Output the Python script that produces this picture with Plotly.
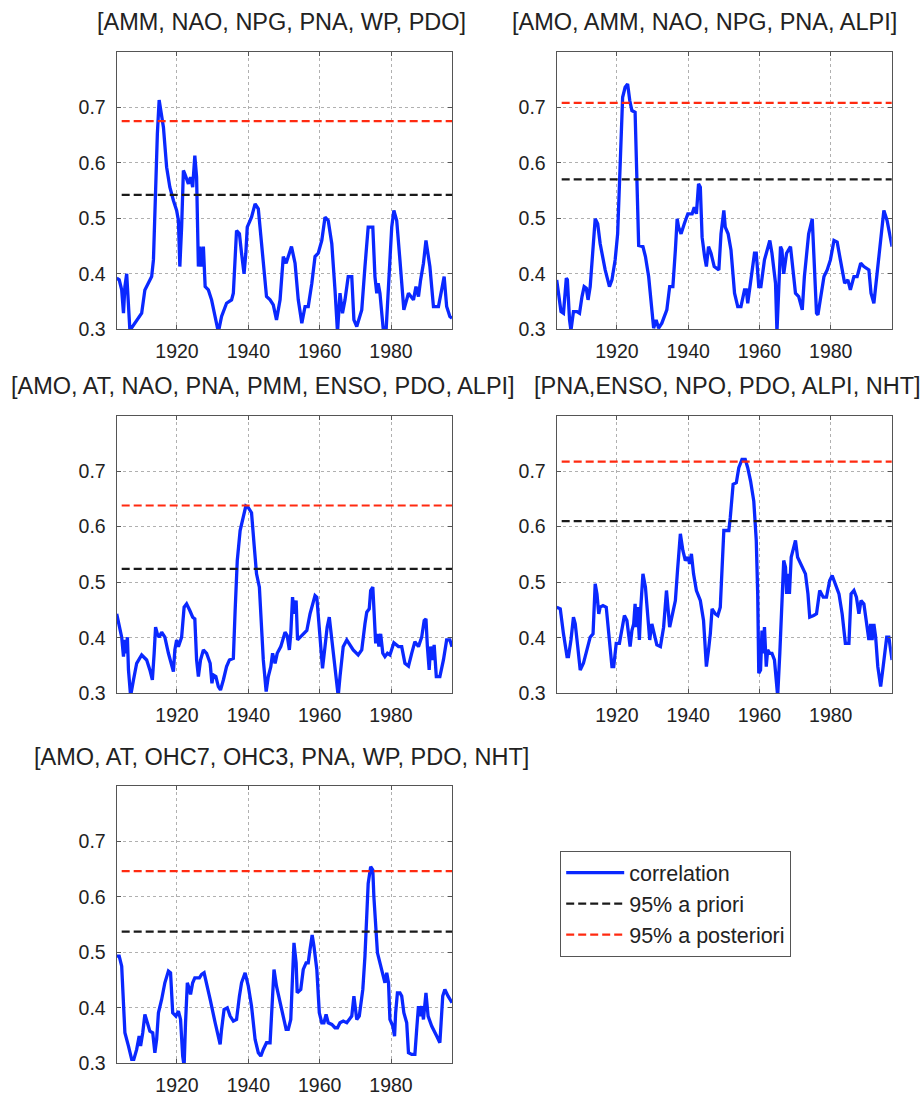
import plotly.graph_objects as go

# ---------------- data ----------------
titles = [
    "[AMM, NAO, NPG, PNA, WP, PDO]",
    "[AMO, AMM, NAO, NPG, PNA, ALPI]",
    "[AMO, AT, NAO, PNA, PMM, ENSO, PDO, ALPI]",
    "[PNA,ENSO, NPO, PDO, ALPI, NHT]",
    "[AMO, AT, OHC7, OHC3, PNA, WP, PDO, NHT]",
]

prior_thr = [0.542, 0.570, 0.524, 0.610, 0.537]
post_thr = [0.675, 0.708, 0.638, 0.717, 0.646]
thr_years = [1904.5, 1997.2]

years1 = [1903.1, 1903.8, 1904.5, 1905.0, 1905.4, 1905.9, 1906.8, 1907.8, 1908.7, 1910.1,
          1911.0, 1912.9, 1913.4, 1913.6, 1914.0, 1914.5, 1915.0, 1915.7, 1916.2, 1917.1,
          1918.0, 1919.0, 1919.9, 1920.4, 1920.8, 1921.3, 1921.8, 1922.2, 1923.2, 1923.8,
          1924.4, 1925.0, 1925.5, 1926.0, 1926.4, 1926.9, 1927.4, 1927.9, 1928.8, 1929.7,
          1930.7, 1931.6, 1932.5, 1933.9, 1935.3, 1935.8, 1936.7, 1937.5, 1938.1, 1938.8,
          1939.3, 1939.7, 1940.9, 1941.9, 1942.8, 1944.2, 1945.1, 1946.1, 1947.0, 1947.9,
          1948.9, 1949.8, 1950.6, 1951.2, 1952.1, 1953.1, 1954.0, 1955.0, 1955.9, 1956.8,
          1957.8, 1958.7, 1959.6, 1960.6, 1961.5, 1962.4, 1963.4, 1964.3, 1965.0, 1965.7,
          1966.4, 1967.1, 1968.0, 1969.0, 1969.6, 1970.4, 1971.8, 1972.7, 1973.6, 1974.9,
          1975.5, 1976.0, 1976.4, 1976.9, 1977.9, 1978.6, 1979.3, 1980.2, 1980.8, 1981.6,
          1982.5, 1983.6, 1984.9, 1986.3, 1987.0, 1987.7, 1988.3, 1989.1, 1989.8, 1990.9,
          1991.9, 1993.3, 1994.2, 1994.9, 1995.6, 1996.5, 1997.1]
corr1 = [0.392, 0.389, 0.371, 0.329, 0.377, 0.400, 0.298, 0.308, 0.317, 0.329,
         0.371, 0.395, 0.425, 0.472, 0.574, 0.652, 0.713, 0.688, 0.664, 0.592,
         0.556, 0.532, 0.514, 0.496, 0.413, 0.484, 0.586, 0.580, 0.562, 0.574,
         0.556, 0.613, 0.574, 0.413, 0.449, 0.413, 0.449, 0.377, 0.371, 0.353,
         0.323, 0.295, 0.323, 0.347, 0.353, 0.365, 0.478, 0.472, 0.437, 0.400,
         0.437, 0.484, 0.502, 0.526, 0.517, 0.413, 0.359, 0.353, 0.344, 0.317,
         0.353, 0.431, 0.419, 0.431, 0.449, 0.419, 0.353, 0.311, 0.341, 0.341,
         0.383, 0.431, 0.437, 0.460, 0.502, 0.496, 0.454, 0.371, 0.295, 0.365,
         0.329, 0.353, 0.395, 0.395, 0.317, 0.305, 0.335, 0.413, 0.484, 0.484,
         0.395, 0.365, 0.383, 0.365, 0.295, 0.295, 0.383, 0.484, 0.514, 0.496,
         0.425, 0.335, 0.365, 0.353, 0.377, 0.359, 0.389, 0.419, 0.460, 0.413,
         0.341, 0.341, 0.371, 0.395, 0.341, 0.323, 0.320]

years2 = [1903.1, 1903.8, 1904.3, 1905.0, 1905.8, 1906.1, 1906.7, 1907.1, 1907.8, 1908.8,
          1909.5, 1910.2, 1910.8, 1911.4, 1911.9, 1912.5, 1913.2, 1913.9, 1914.6, 1915.3,
          1916.7, 1917.9, 1918.6, 1919.5, 1920.2, 1920.9, 1921.6, 1922.3, 1923.0, 1923.6,
          1924.2, 1925.1, 1925.6, 1926.1, 1927.3, 1928.0, 1928.9, 1929.8, 1930.3, 1931.0,
          1931.7, 1932.6, 1934.0, 1934.8, 1935.7, 1936.4, 1936.9, 1937.3, 1938.0, 1938.9,
          1939.9, 1941.1, 1941.7, 1942.3, 1942.9, 1943.4, 1943.9, 1944.6, 1945.1, 1945.7,
          1946.4, 1947.3, 1948.6, 1949.2, 1950.0, 1950.4, 1951.2, 1952.0, 1953.0, 1953.9,
          1954.8, 1955.8, 1956.3, 1956.7, 1957.5, 1958.6, 1959.1, 1959.8, 1960.4, 1961.4,
          1962.9, 1963.5, 1964.5, 1964.9, 1965.4, 1965.9, 1966.3, 1966.8, 1967.6, 1968.7,
          1969.4, 1970.1, 1971.0, 1972.0, 1972.6, 1973.8, 1974.8, 1975.2, 1976.0, 1976.4,
          1977.1, 1978.1, 1979.0, 1979.9, 1980.9, 1981.8, 1982.7, 1983.9, 1984.8, 1985.5,
          1986.5, 1987.4, 1988.4, 1989.3, 1990.7, 1991.3, 1992.1, 1993.0, 1994.0, 1994.9,
          1995.8, 1997.2]
corr2 = [0.389, 0.353, 0.332, 0.329, 0.392, 0.389, 0.317, 0.298, 0.332, 0.332,
         0.329, 0.359, 0.377, 0.374, 0.353, 0.377, 0.431, 0.499, 0.490, 0.454,
         0.407, 0.377, 0.389, 0.425, 0.472, 0.592, 0.718, 0.736, 0.742, 0.712,
         0.694, 0.691, 0.592, 0.451, 0.449, 0.431, 0.395, 0.329, 0.302, 0.317,
         0.302, 0.311, 0.335, 0.377, 0.377, 0.443, 0.499, 0.484, 0.472, 0.490,
         0.508, 0.508, 0.520, 0.508, 0.562, 0.556, 0.466, 0.431, 0.413, 0.449,
         0.437, 0.413, 0.407, 0.472, 0.514, 0.484, 0.472, 0.443, 0.365, 0.341,
         0.341, 0.371, 0.371, 0.347, 0.389, 0.437, 0.437, 0.377, 0.377, 0.425,
         0.460, 0.437, 0.383, 0.295, 0.371, 0.449, 0.443, 0.400, 0.437, 0.449,
         0.407, 0.365, 0.359, 0.335, 0.395, 0.472, 0.499, 0.443, 0.329, 0.326,
         0.353, 0.395, 0.407, 0.425, 0.460, 0.457, 0.425, 0.383, 0.389, 0.371,
         0.395, 0.395, 0.419, 0.413, 0.407, 0.365, 0.347, 0.400, 0.472, 0.514,
         0.496, 0.449]

years3 = [1903.1, 1903.8, 1904.5, 1905.0, 1905.3, 1905.7, 1906.1, 1906.4, 1907.0, 1907.8,
          1908.7, 1910.1, 1911.5, 1912.4, 1913.1, 1913.6, 1914.0, 1914.5, 1915.0, 1915.7,
          1916.6, 1917.6, 1918.5, 1919.0, 1919.4, 1919.9, 1920.4, 1921.3, 1922.0, 1922.7,
          1923.6, 1924.4, 1925.0, 1925.5, 1926.0, 1926.6, 1927.4, 1928.3, 1929.3, 1929.8,
          1930.2, 1930.9, 1931.6, 1932.2, 1933.0, 1933.9, 1934.7, 1935.8, 1936.3, 1936.9,
          1937.7, 1938.6, 1939.3, 1940.0, 1940.9, 1941.6, 1942.3, 1943.1, 1943.7, 1944.2,
          1945.0, 1945.6, 1946.3, 1946.8, 1947.5, 1948.1, 1949.1, 1950.3, 1950.9, 1951.5,
          1951.9, 1952.4, 1952.8, 1953.4, 1953.8, 1954.5, 1955.4, 1956.4, 1957.3, 1958.7,
          1959.2, 1959.9, 1960.4, 1960.8, 1961.5, 1962.1, 1962.7, 1963.4, 1964.0, 1964.8,
          1965.2, 1965.7, 1966.6, 1967.6, 1968.5, 1969.4, 1970.8, 1971.8, 1972.7, 1973.2,
          1973.9, 1974.3, 1974.9, 1975.2, 1975.7, 1976.2, 1976.6, 1977.1, 1977.7, 1978.3,
          1979.0, 1979.7, 1980.8, 1982.1, 1983.0, 1983.9, 1984.9, 1985.8, 1986.7, 1987.7,
          1988.6, 1989.3, 1989.8, 1990.2, 1990.7, 1991.1, 1991.7, 1992.1, 1992.7, 1993.7,
          1994.7, 1995.6, 1996.5, 1997.1]
corr3 = [0.443, 0.419, 0.401, 0.366, 0.396, 0.372, 0.401, 0.342, 0.295, 0.324,
         0.354, 0.369, 0.360, 0.342, 0.324, 0.372, 0.419, 0.407, 0.401, 0.410,
         0.401, 0.372, 0.348, 0.339, 0.378, 0.396, 0.384, 0.401, 0.455, 0.461,
         0.449, 0.437, 0.434, 0.360, 0.330, 0.360, 0.378, 0.372, 0.354, 0.318,
         0.333, 0.330, 0.312, 0.306, 0.324, 0.348, 0.360, 0.363, 0.449, 0.539,
         0.593, 0.622, 0.637, 0.634, 0.625, 0.569, 0.515, 0.491, 0.425, 0.360,
         0.303, 0.330, 0.348, 0.372, 0.354, 0.372, 0.384, 0.410, 0.404, 0.378,
         0.407, 0.473, 0.443, 0.467, 0.396, 0.401, 0.407, 0.413, 0.443, 0.476,
         0.473, 0.419, 0.372, 0.345, 0.384, 0.419, 0.437, 0.396, 0.360, 0.324,
         0.295, 0.330, 0.384, 0.396, 0.387, 0.378, 0.369, 0.378, 0.425, 0.446,
         0.452, 0.485, 0.491, 0.461, 0.390, 0.407, 0.384, 0.407, 0.372, 0.366,
         0.372, 0.369, 0.391, 0.384, 0.384, 0.354, 0.349, 0.372, 0.393, 0.384,
         0.401, 0.431, 0.434, 0.384, 0.342, 0.384, 0.360, 0.387, 0.330, 0.330,
         0.360, 0.396, 0.396, 0.384]

years4 = [1903.1, 1904.1, 1905.0, 1906.0, 1906.4, 1907.1, 1907.8, 1908.3, 1909.0, 1909.7,
          1910.6, 1911.6, 1912.5, 1913.3, 1913.9, 1914.4, 1914.9, 1915.3, 1916.1, 1917.0,
          1917.7, 1918.6, 1919.1, 1919.8, 1920.7, 1921.4, 1922.1, 1922.8, 1923.7, 1924.2,
          1924.7, 1925.1, 1925.4, 1925.8, 1926.3, 1926.7, 1927.3, 1928.0, 1928.6, 1929.2,
          1929.8, 1930.3, 1931.2, 1932.2, 1933.1, 1933.9, 1934.2, 1934.8, 1935.4, 1936.4,
          1937.0, 1937.8, 1938.5, 1939.2, 1939.9, 1940.4, 1940.9, 1941.5, 1942.3, 1943.4,
          1944.3, 1945.1, 1945.7, 1946.2, 1946.7, 1947.6, 1948.3, 1949.0, 1950.0, 1951.4,
          1951.8, 1952.6, 1953.5, 1954.2, 1955.1, 1956.0, 1956.7, 1957.5, 1958.4, 1959.1,
          1959.5, 1959.8, 1960.3, 1960.7, 1961.0, 1961.4, 1961.9, 1962.3, 1962.9, 1963.5,
          1964.2, 1964.8, 1965.1, 1965.7, 1966.3, 1966.8, 1967.3, 1967.6, 1967.9, 1968.4,
          1968.9, 1969.6, 1970.1, 1970.7, 1971.5, 1972.9, 1973.6, 1974.1, 1975.2, 1976.0,
          1976.9, 1977.9, 1978.8, 1979.7, 1980.4, 1981.3, 1982.3, 1983.2, 1984.1, 1985.1,
          1985.7, 1986.5, 1987.2, 1987.9, 1988.5, 1989.3, 1990.0, 1990.7, 1991.2, 1991.6,
          1992.1, 1992.6, 1993.2, 1994.0, 1994.7, 1995.7, 1996.3, 1997.2]
corr4 = [0.455, 0.452, 0.407, 0.366, 0.366, 0.396, 0.437, 0.425, 0.384, 0.342,
         0.354, 0.378, 0.401, 0.407, 0.497, 0.479, 0.443, 0.455, 0.458, 0.455,
         0.407, 0.348, 0.348, 0.390, 0.390, 0.413, 0.440, 0.431, 0.384, 0.413,
         0.425, 0.461, 0.419, 0.455, 0.396, 0.455, 0.515, 0.491, 0.443, 0.396,
         0.425, 0.413, 0.387, 0.384, 0.419, 0.485, 0.467, 0.419, 0.437, 0.467,
         0.521, 0.587, 0.557, 0.539, 0.545, 0.533, 0.551, 0.515, 0.485, 0.467,
         0.431, 0.348, 0.378, 0.407, 0.452, 0.443, 0.440, 0.455, 0.593, 0.593,
         0.616, 0.676, 0.679, 0.706, 0.721, 0.721, 0.706, 0.682, 0.646, 0.575,
         0.479, 0.336, 0.342, 0.413, 0.372, 0.419, 0.348, 0.378, 0.372, 0.372,
         0.360, 0.324, 0.295, 0.372, 0.479, 0.539, 0.527, 0.479, 0.515, 0.479,
         0.545, 0.563, 0.575, 0.545, 0.533, 0.515, 0.479, 0.437, 0.440, 0.443,
         0.485, 0.473, 0.473, 0.503, 0.512, 0.497, 0.479, 0.443, 0.390, 0.390,
         0.479, 0.485, 0.473, 0.443, 0.467, 0.461, 0.431, 0.396, 0.425, 0.396,
         0.425, 0.401, 0.348, 0.312, 0.348, 0.401, 0.401, 0.360]

years5 = [1903.1, 1903.8, 1904.5, 1905.0, 1905.4, 1906.4, 1907.3, 1907.9, 1908.7, 1909.4,
          1909.8, 1910.4, 1911.0, 1911.7, 1912.4, 1913.2, 1913.8, 1914.3, 1914.8, 1915.7,
          1916.6, 1917.6, 1918.2, 1918.8, 1919.7, 1920.4, 1921.0, 1921.6, 1922.0, 1922.4,
          1922.9, 1923.5, 1923.8, 1924.4, 1925.0, 1926.3, 1926.9, 1927.6, 1928.3, 1929.3,
          1930.7, 1931.6, 1932.1, 1932.5, 1933.2, 1934.1, 1934.9, 1935.8, 1936.7, 1937.5,
          1938.1, 1939.1, 1940.0, 1940.9, 1941.9, 1942.8, 1943.5, 1944.2, 1945.1, 1946.1,
          1946.5, 1947.2, 1947.9, 1948.7, 1949.6, 1950.6, 1951.2, 1951.9, 1952.4, 1952.8,
          1953.4, 1953.7, 1954.7, 1955.4, 1956.2, 1956.8, 1957.3, 1957.9, 1958.4, 1959.2,
          1959.9, 1960.6, 1961.2, 1961.8, 1962.4, 1963.4, 1964.3, 1965.0, 1965.7, 1966.6,
          1967.6, 1968.3, 1969.0, 1969.6, 1970.4, 1971.1, 1972.1, 1972.7, 1973.2, 1973.6,
          1974.3, 1974.9, 1975.2, 1975.8, 1976.2, 1976.9, 1977.7, 1978.3, 1978.8, 1979.3,
          1979.7, 1980.5, 1981.0, 1981.3, 1981.8, 1982.5, 1983.0, 1983.6, 1984.4, 1984.9,
          1985.8, 1986.7, 1987.2, 1987.7, 1988.1, 1988.6, 1989.1, 1989.8, 1990.4, 1991.4,
          1992.8, 1993.7, 1994.5, 1995.1, 1996.0, 1997.1]
corr5 = [0.493, 0.493, 0.475, 0.403, 0.355, 0.331, 0.307, 0.307, 0.325, 0.349,
         0.331, 0.355, 0.388, 0.373, 0.358, 0.355, 0.319, 0.343, 0.391, 0.415,
         0.445, 0.466, 0.463, 0.391, 0.385, 0.394, 0.379, 0.313, 0.295, 0.373,
         0.445, 0.433, 0.424, 0.445, 0.454, 0.454, 0.460, 0.463, 0.445, 0.415,
         0.373, 0.349, 0.334, 0.361, 0.397, 0.400, 0.385, 0.376, 0.379, 0.421,
         0.445, 0.463, 0.439, 0.403, 0.343, 0.319, 0.313, 0.325, 0.337, 0.337,
         0.391, 0.469, 0.439, 0.415, 0.385, 0.361, 0.361, 0.379, 0.457, 0.517,
         0.481, 0.427, 0.433, 0.469, 0.481, 0.481, 0.505, 0.531, 0.511, 0.469,
         0.391, 0.373, 0.373, 0.388, 0.373, 0.370, 0.364, 0.364, 0.373, 0.376,
         0.373, 0.379, 0.385, 0.421, 0.379, 0.385, 0.433, 0.493, 0.564, 0.624,
         0.654, 0.648, 0.600, 0.528, 0.499, 0.481, 0.457, 0.445, 0.463, 0.445,
         0.379, 0.367, 0.349, 0.391, 0.427, 0.427, 0.421, 0.391, 0.373, 0.319,
         0.316, 0.316, 0.361, 0.403, 0.385, 0.403, 0.379, 0.427, 0.385, 0.367,
         0.349, 0.337, 0.421, 0.433, 0.421, 0.409]

x_ticks = [1920, 1940, 1960, 1980]
y_ticks = [0.3, 0.4, 0.5, 0.6, 0.7]
legend_names = ["correlation", "95% a priori", "95% a posteriori"]

# ---------------- layout helpers ----------------
W, H = 921, 1096
FONT = "Liberation Sans, Arial, Helvetica, sans-serif"
BLUE = "#0a28ff"
RED = "#ff2a10"
BLACK = "#1a1a1a"


def px_x(p):
    return p / W


def px_y(p):
    return 1 - p / H


# page-pixel boxes: (left, right, top, bottom)
boxes = [
    (116.7, 452.0, 51.7, 329.3),
    (556.7, 891.7, 51.7, 329.3),
    (116.7, 452.0, 415.5, 693.3),
    (556.7, 891.7, 415.5, 693.3),
    (116.7, 452.0, 785.7, 1063.3),
]
title_pos = [(281, 22), (704, 22), (263, 386), (727, 386), (281, 757)]

series_years = [years1, years2, years3, years4, years5]
series_corr = [corr1, corr2, corr3, corr4, corr5]

fig = go.Figure()
layout = dict(
    width=W, height=H,
    margin=dict(l=0, r=0, t=0, b=0, pad=0, autoexpand=False),
    paper_bgcolor="white", plot_bgcolor="white",
    font=dict(family=FONT, color="#222222"),
    showlegend=True,
    annotations=[],
)

for i in range(5):
    ax = "" if i == 0 else str(i + 1)
    xr, yr = "x" + ax, "y" + ax
    show = (i == 0)
    fig.add_trace(go.Scatter(
        x=series_years[i], y=series_corr[i], mode="lines",
        line=dict(color=BLUE, width=3.3), name=legend_names[0],
        showlegend=show, legendrank=1, xaxis=xr, yaxis=yr, hoverinfo="skip"))
    fig.add_trace(go.Scatter(
        x=thr_years, y=[prior_thr[i]] * 2, mode="lines",
        line=dict(color=BLACK, width=2.2, dash="8px,4px"), name=legend_names[1],
        showlegend=show, legendrank=2, xaxis=xr, yaxis=yr, hoverinfo="skip"))
    fig.add_trace(go.Scatter(
        x=thr_years, y=[post_thr[i]] * 2, mode="lines",
        line=dict(color=RED, width=2.2, dash="8px,4px"), name=legend_names[2],
        showlegend=show, legendrank=3, xaxis=xr, yaxis=yr, hoverinfo="skip"))

    l, r, t, b = boxes[i]
    common = dict(
        showline=True, mirror="ticks", linecolor="#555555", linewidth=1.2,
        ticks="inside", ticklen=4, tickcolor="#555555",
        showgrid=True, gridcolor="#b0b0b0", gridwidth=1, griddash="dot",
        zeroline=False, tickfont=dict(family=FONT, size=19.5, color="#222222"),
        fixedrange=True, automargin=False,
    )
    layout["xaxis" + ax] = dict(
        domain=[px_x(l), px_x(r)], range=[1903.1, 1997.1],
        tickvals=x_ticks, ticktext=[str(v) for v in x_ticks],
        anchor=yr, ticklabelstandoff=4, **common)
    layout["yaxis" + ax] = dict(
        domain=[px_y(b), px_y(t)], range=[0.3, 0.8],
        tickvals=y_ticks, ticktext=["%.1f" % v for v in y_ticks],
        anchor=xr, ticklabelstandoff=6, **common)

    tx, ty = title_pos[i]
    layout["annotations"].append(dict(
        text=titles[i], x=px_x(tx), y=px_y(ty), xref="paper", yref="paper",
        xanchor="center", yanchor="middle", showarrow=False,
        font=dict(family=FONT, size=23.5, color="#222222")))

layout["legend"] = dict(
    x=px_x(560), y=px_y(851), xanchor="left", yanchor="top",
    bordercolor="#555555", borderwidth=1.2, bgcolor="white",
    font=dict(family=FONT, size=21.5, color="#222222"),
    tracegroupgap=0, itemwidth=58,
)

fig.update_layout(**layout)
fig.write_html(
    "out.html",
    config={"displayModeBar": False},
    post_script="document.body.style.margin='0';"
                "document.documentElement.style.overflow='hidden';",
)
